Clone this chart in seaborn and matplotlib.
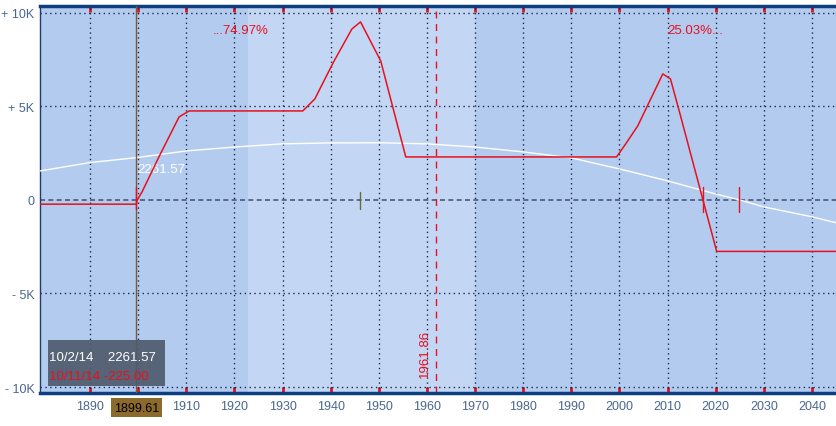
import matplotlib
matplotlib.use("Agg")
import matplotlib.pyplot as plt
import numpy as np
import pandas as pd
import seaborn as sns

# P/L at expiry (red)
pl_x = [1879.6, 1899.6, 1899.8, 1900.8, 1904.4, 1908.5, 1910.6, 1934.2, 1936.7,
        1940.6, 1944.4, 1946.2, 1950.4, 1955.6, 1999.4, 2001.3, 2003.8, 2009.0,
        2010.6, 2012.3, 2017.3, 2020.2, 2045.2]
pl_y = [-225, -225, 0, 430, 2350, 4440, 4760, 4760, 5400,
        7380, 9140, 9520, 7430, 2300, 2300, 3000, 3960, 6740,
        6470, 4870, 50, -2750, -2750]

# P/L today (white curve)
now_x = [1879.6, 1890, 1899.6, 1910, 1920, 1930, 1940, 1950, 1960, 1970, 1980,
         1990, 2000, 2010, 2020, 2025, 2030, 2040, 2045.2]
now_y = [1550, 2000, 2262, 2620, 2830, 3000, 3050, 3060, 3000, 2830, 2570,
         2250, 1660, 1020, 320, 0, -370, -900, -1230]

x_ticks = [1890, 1900, 1910, 1920, 1930, 1940, 1950, 1960, 1970, 1980, 1990,
           2000, 2010, 2020, 2030, 2040]
# 1900 is hidden under the cursor label in the original
x_labels = ["1890", "", "1910", "1920", "1930", "1940", "1950", "1960", "1970",
            "1980", "1990", "2000", "2010", "2020", "2030", "2040"]
y_ticks = [-10000, -5000, 0, 5000, 10000]
y_labels = ["- 10K", "- 5K", "0", "+ 5K", "+ 10K"]

sns.set_style("white")
plt.rcParams['font.family'] = ['Liberation Sans', 'DejaVu Sans']

fig = plt.figure(figsize=(8.37, 4.27), dpi=100)
ax = fig.add_axes([40 / 837, 33 / 427, 797 / 837, 387 / 427])

dark_bg = "#b2cbef"
light_bg = "#c3d7f4"
ax.set_facecolor(dark_bg)
ax.axvspan(1922.9, 1970.0, color=light_bg, zorder=0, lw=0)

sns.lineplot(data=pd.DataFrame({"x": now_x, "y": now_y}), x="x", y="y",
             color="white", lw=1, ax=ax, zorder=3)
sns.lineplot(data=pd.DataFrame({"x": pl_x, "y": pl_y}), x="x", y="y",
             color="#e8101e", lw=1.1, ax=ax, zorder=4, sort=False)

ax.set_xlim(1879.6, 2045.2)
ax.set_ylim(-10320, 10370)
ax.set_xlabel("")
ax.set_ylabel("")

grid_col = "#1e2a50"
for xv in x_ticks:
    ax.axvline(xv, color=grid_col, lw=1, ls=(0, (1, 2.5)), zorder=1)
for yv in [-10000, -5000, 5000, 10000]:
    ax.axhline(yv, color=grid_col, lw=1, ls=(0, (1, 2.5)), zorder=1)
ax.axhline(0, color="#4a5a78", lw=1.2, ls=(0, (3, 2)), zorder=2)

# markers
ax.axvline(1899.61, color="#7a5a3a", lw=1, zorder=5)
ax.axvline(1961.86, color="#e8101e", lw=1, ls=(0, (5, 4)), zorder=2)
ax.plot([1899.61, 1899.61], [-500, 700], color="#e8101e", lw=1, zorder=5)
ax.plot([1946.0, 1946.0], [-500, 400], color="#6a6a3a", lw=1, zorder=5)
ax.plot([2017.3, 2017.3], [-650, 700], color="#e8101e", lw=1, zorder=5)
ax.plot([2024.8, 2024.8], [-650, 700], color="#e8101e", lw=1, zorder=5)

ax.set_xticks(x_ticks)
ax.set_xticklabels(x_labels)
ax.set_yticks(y_ticks)
ax.set_yticklabels(y_labels)
lab_col = "#4a6690"
ax.tick_params(axis="x", direction="in", color="#e8101e", length=4, width=2,
               top=True, bottom=True, labelsize=9, labelcolor=lab_col, pad=5)
ax.tick_params(axis="y", length=0, labelsize=9, labelcolor=lab_col, pad=4)

for s in ["top", "bottom"]:
    ax.spines[s].set_color("#0d3f80")
    ax.spines[s].set_linewidth(2.5)
ax.spines["left"].set_color("#1e3a70")
ax.spines["left"].set_linewidth(1)
ax.spines["right"].set_visible(False)

red = "#e8101e"
ax.text(1927.2, 9100, "...74.97%", color=red, fontsize=9.5, ha="right", va="center")
ax.text(2010.0, 9100, "25.03%...", color=red, fontsize=9.5, ha="left", va="center")
ax.text(1899.8, 1650, "2261.57", color="white", fontsize=9.5, ha="left", va="center")
ax.text(1960.9, -8200, "1961.86", color=red, fontsize=9.5, rotation=90,
        ha="right", va="center")

ax.text(1881.4, -8380, "10/2/14    2261.57", color="white", fontsize=9.5,
        ha="left", va="center", zorder=7)
ax.text(1881.4, -9420, "10/11/14 -225.00", color=red, fontsize=9.5,
        ha="left", va="center", zorder=7)
ax.add_patch(plt.Rectangle((1881.3, -9950), 24.2, 2480, facecolor="#4f5a6c",
                           edgecolor="none", alpha=0.92, zorder=6))

ax.text(1899.61, -11100, "1899.61", color="black", fontsize=9, ha="center",
        va="center", zorder=8, clip_on=False,
        bbox=dict(boxstyle="square,pad=0.25", facecolor="#8b6a2b", edgecolor="none"))

fig.savefig("out.png", dpi=100)
